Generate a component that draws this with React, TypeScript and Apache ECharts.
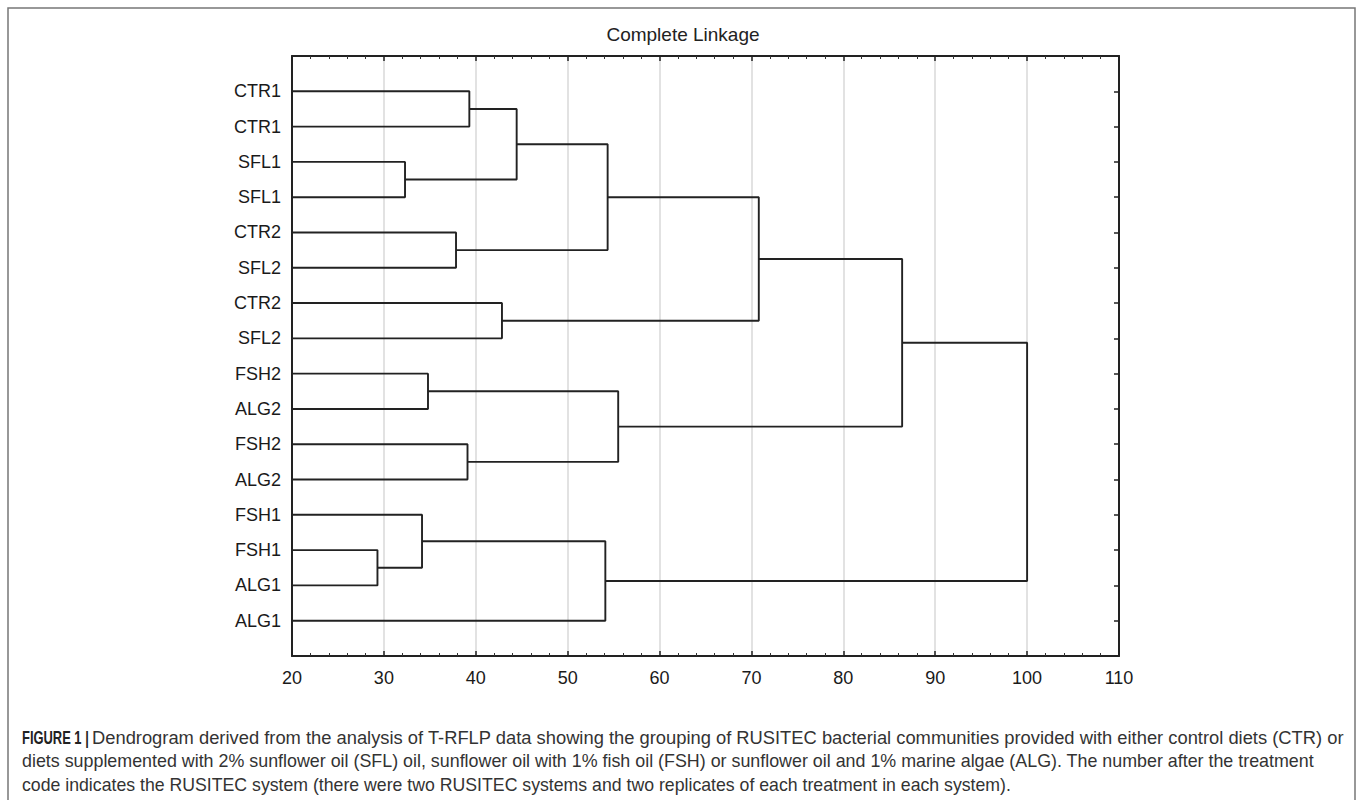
import React, { useEffect, useRef } from "react";
import * as echarts from "echarts";

// Leaves, top to bottom
const leafLabels = [
  "CTR1", "CTR1", "SFL1", "SFL1", "CTR2", "SFL2", "CTR2", "SFL2",
  "FSH2", "ALG2", "FSH2", "ALG2", "FSH1", "FSH1", "ALG1", "ALG1",
];
// Merges: node ids 0..15 are leaves, 16+k is merge k
const mergeLeft = [0, 2, 16, 4, 18, 6, 20, 8, 10, 23, 22, 13, 12, 28, 26];
const mergeRight = [1, 3, 17, 5, 19, 7, 21, 9, 11, 24, 25, 14, 27, 15, 29];
const mergeHeight = [39.3, 32.3, 44.45, 37.85, 54.35, 42.85, 70.8, 34.8, 39.1, 55.5, 86.4, 29.3, 34.15, 54.1, 100];

const xTicks = [20, 30, 40, 50, 60, 70, 80, 90, 100, 110];
const title = "Complete Linkage";
const captionLead = "FIGURE 1 |";
const captionLines = [
  "Dendrogram derived from the analysis of T-RFLP data showing the grouping of RUSITEC bacterial communities provided with either control diets (CTR) or",
  "diets supplemented with 2% sunflower oil (SFL) oil, sunflower oil with 1% fish oil (FSH) or sunflower oil and 1% marine algae (ALG). The number after the treatment",
  "code indicates the RUSITEC system (there were two RUSITEC systems and two replicates of each treatment in each system).",
];

const FONT = "'Liberation Sans', Arial, sans-serif";

export default function App() {
  const ref = useRef<HTMLDivElement>(null);
  useEffect(() => {
    if (!ref.current) return;
    const chart = echarts.init(ref.current, null, { renderer: "svg" });
    const xMin = xTicks[0];
    const xMax = xTicks[xTicks.length - 1];
    const nLeaves = leafLabels.length;

    const nodeH: number[] = [];
    const nodeY: number[] = [];
    leafLabels.forEach((_, i) => {
      nodeH[i] = xMin;
      nodeY[i] = i + 1;
    });
    const series: any[] = [];
    mergeHeight.forEach((h, k) => {
      const l = mergeLeft[k];
      const r = mergeRight[k];
      const id = nLeaves + k;
      nodeH[id] = h;
      nodeY[id] = (nodeY[l] + nodeY[r]) / 2;
      series.push({
        type: "line",
        data: [
          [nodeH[l], nodeY[l]],
          [h, nodeY[l]],
          [h, nodeY[r]],
          [nodeH[r], nodeY[r]],
        ],
        symbol: "none",
        silent: true,
        lineStyle: { color: "#222", width: 1.9 },
        z: 5,
      });
    });

    const xCommon = {
      type: "value",
      min: xMin,
      max: xMax,
      interval: 10,
      axisLine: { show: true, onZero: false, lineStyle: { color: "#222", width: 2 } },
      axisTick: { show: true, inside: true, length: 5, lineStyle: { color: "#222", width: 1.5 } },
      minorTick: { show: true, splitNumber: 5, length: 3, lineStyle: { color: "#333", width: 1 } },
    };

    const capSize = 17.7;
    const capY = [738, 761.5, 785];
    const capScale = [1.036, 1.01, 1.0];

    chart.setOption({
      animation: false,
      backgroundColor: "#fff",
      title: {
        text: title,
        left: 678,
        top: 20,
        textAlign: "center",
        textStyle: { fontFamily: FONT, fontSize: 19, fontWeight: "normal", color: "#222" },
      },
      grid: { left: 292, top: 56, right: 238, bottom: 144, containLabel: false },
      xAxis: [
        {
          ...xCommon,
          position: "bottom",
          axisLabel: { fontFamily: FONT, fontSize: 18, color: "#1a1a1a", margin: 13 },
          splitLine: { show: true, lineStyle: { color: "#d8d8d8", width: 1.5 } },
        },
        {
          ...xCommon,
          position: "top",
          axisLabel: { show: false },
          splitLine: { show: false },
        },
      ],
      yAxis: [
        {
          type: "value",
          min: 0,
          max: nLeaves + 1,
          interval: 1,
          inverse: true,
          position: "left",
          axisLine: { show: true, onZero: false, lineStyle: { color: "#222", width: 2 } },
          axisTick: { show: false },
          splitLine: { show: false },
          axisLabel: {
            fontFamily: FONT,
            fontSize: 18,
            color: "#1a1a1a",
            margin: 11,
            formatter: (v: number) => (v >= 1 && v <= nLeaves ? leafLabels[v - 1] : ""),
          },
        },
        {
          type: "value",
          min: 0,
          max: nLeaves + 1,
          interval: 1,
          inverse: true,
          position: "right",
          axisLine: { show: true, onZero: false, lineStyle: { color: "#222", width: 2 } },
          axisTick: { show: true, inside: true, length: 5, lineStyle: { color: "#222", width: 1.5 } },
          splitLine: { show: false },
          axisLabel: { show: false },
        },
      ],
      series,
      graphic: [
        {
          type: "rect",
          shape: { x: 8, y: 8, width: 1347, height: 810 },
          style: { fill: "none", stroke: "#777", lineWidth: 1.5 },
          silent: true,
        },
        {
          type: "text",
          x: 22,
          y: capY[0],
          scaleX: 0.73,
          style: {
            text: captionLead,
            fontFamily: FONT,
            fontSize: capSize,
            fontWeight: "bold",
            fill: "#222",
            verticalAlign: "middle",
          },
          silent: true,
        },
        ...captionLines.map((line, i) => ({
          type: "text",
          x: i === 0 ? 92 : 22,
          y: capY[i],
          scaleX: capScale[i],
          style: {
            text: line,
            fontFamily: FONT,
            fontSize: capSize,
            fill: "#333",
            verticalAlign: "middle",
          },
          silent: true,
        })),
      ],
    });
    return () => chart.dispose();
  }, []);
  return (
    <div
      ref={ref}
      style={{ position: "fixed", left: 0, top: 0, width: 1357, height: 800, background: "#fff" }}
    />
  );
}
